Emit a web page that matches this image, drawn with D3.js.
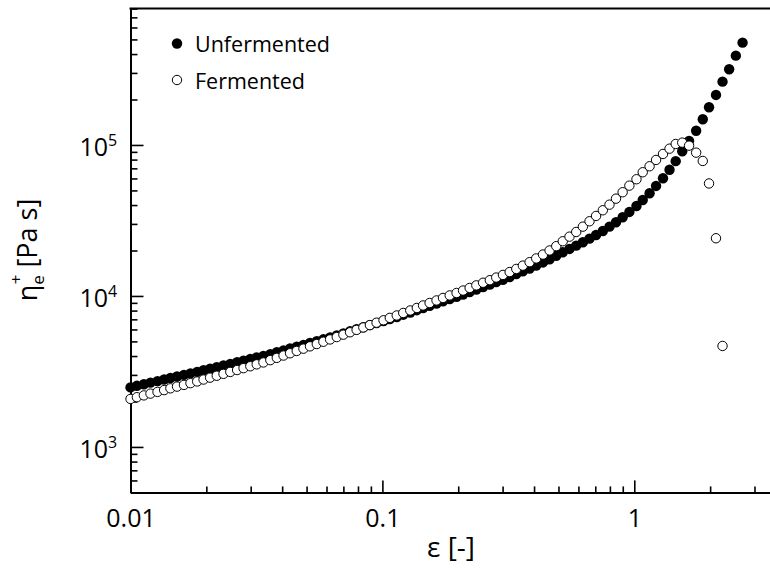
<!DOCTYPE html>
<html><head><meta charset="utf-8">
<script src="https://cdn.jsdelivr.net/npm/d3@7"></script>
<style>body{margin:0;background:#fff}svg{display:block}text{font-family:"Open Sans",sans-serif;fill:#000}</style>
</head><body>
<svg id="c" width="770" height="570"></svg>
<script>
const strain = [0.0100,0.0106,0.0113,0.0120,0.0128,0.0136,0.0144,0.0153,0.0163,0.0173,
0.0184,0.0195,0.0207,0.0220,0.0234,0.0249,0.0265,0.0281,0.0299,0.0317,
0.0337,0.0359,0.0381,0.0405,0.0430,0.0457,0.0486,0.0516,0.0549,0.0583,
0.0620,0.0659,0.0700,0.0744,0.0790,0.0840,0.0892,0.0948,0.101,0.107,
0.114,0.121,0.129,0.137,0.145,0.154,0.164,0.174,0.185,0.197,
0.209,0.222,0.236,0.251,0.267,0.283,0.301,0.320,0.340,0.361,
0.384,0.408,0.434,0.461,0.490,0.520,0.553,0.588,0.625,0.664,
0.705,0.750,0.797,0.846,0.899,0.956,1.02,1.08,1.15,1.22,
1.30,1.38,1.46,1.55,1.65,1.76,1.87,1.98,2.11,2.24,
2.38,2.53,2.69];
const unfermented = [2480,2540,2600,2665,2730,2795,2860,2930,3000,3070,
3140,3220,3300,3380,3465,3550,3640,3730,3821,3912,
4006,4120,4240,4361,4486,4612,4745,4880,5020,5163,
5311,5479,5653,5833,6018,6209,6407,6611,6822,7038,
7260,7514,7775,8048,8327,8619,8919,9231,9552,9886,
10230,10620,11030,11445,11880,12340,12810,13360,13950,14550,
15190,15900,16670,17500,18460,19470,20480,21530,22680,23970,
25350,26940,28770,30770,33210,36010,39450,43230,47880,53530,
60190,68500,78120,90850,106300,124200,148000,177700,214400,262600,
317200,390300,476000];
const fermented = [2080,2135,2195,2255,2315,2380,2445,2510,2575,2645,
2715,2795,2877,2962,3049,3139,3231,3326,3423,3524,
3627,3757,3891,4030,4173,4323,4477,4638,4803,4975,
5152,5343,5542,5748,5962,6185,6414,6653,6900,7161,
7428,7715,8015,8327,8652,8987,9338,9700,10080,10470,
10860,11300,11750,12230,12720,13240,13780,14400,15100,15880,
16740,17720,18800,20010,21370,23030,24700,26530,28770,31240,
33870,36940,40230,44100,48630,53780,59280,65960,72270,79560,
87180,94510,101500,103600,98950,88920,78340,55590,24110,4666];

const seriesNames = ["Unfermented","Fermented"];
const xMajor = [0.01,0.1,1];
const xMajorLabels = ["0.01","0.1","1"];
const xMinor = [0.02,0.03,0.04,0.05,0.06,0.07,0.08,0.09,0.2,0.3,0.4,0.5,0.6,0.7,0.8,0.9,2,3];
const yMajor = [1e3,1e4,1e5];
const yMajorExp = ["3","4","5"];
const yMinor = [500,600,700,800,900,2000,3000,4000,5000,6000,7000,8000,9000,
20000,30000,40000,50000,60000,70000,80000,90000,200000,300000,400000,500000,600000,700000,800000];

const svg = d3.select("#c");
const L = 130.5, T = 8.6, B = 492.4, dec = 251.9;
const x = d3.scaleLog().domain([0.01, 3.5]).range([L, L + dec*Math.log10(350)]);
const y = d3.scaleLog().domain([500, 800000]).range([B, T]);

// x axis
const gx = svg.append("g").attr("transform",`translate(0,${B})`);
gx.call(d3.axisBottom(x).tickValues(xMinor).tickSizeInner(-6).tickSizeOuter(0).tickFormat(""));
const gx2 = svg.append("g").attr("transform",`translate(0,${B})`);
gx2.call(d3.axisBottom(x).tickValues(xMajor).tickSizeInner(-12).tickSizeOuter(0).tickPadding(16.5)
  .tickFormat((d,i)=>xMajorLabels[i]));
gx2.selectAll("text").style("font-size","25px").attr("font-family",null);
// y axis
const gy = svg.append("g").attr("transform",`translate(${L},0)`);
gy.call(d3.axisLeft(y).tickValues(yMinor).tickSizeInner(-7).tickSizeOuter(0).tickFormat(""));
const gy2 = svg.append("g").attr("transform",`translate(${L},0)`);
gy2.call(d3.axisLeft(y).tickValues(yMajor).tickSizeInner(-13).tickSizeOuter(0).tickFormat(""));
svg.selectAll(".domain").attr("stroke","#000").attr("stroke-width",2);
svg.selectAll(".tick line").attr("stroke","#000").attr("stroke-width",1.6);
svg.selectAll(".tick text").attr("fill","#000");

// y labels with superscripts
yMajor.forEach((v,i)=>{
  svg.append("text").attr("x",108).attr("y",y(v)+11).attr("text-anchor","end").style("font-size","25px").text("10");
  svg.append("text").attr("x",108).attr("y",y(v)+1).style("font-size","16px").text(yMajorExp[i]);
});

// top border
svg.append("line").attr("x1",L-1).attr("x2",770).attr("y1",T).attr("y2",T).attr("stroke","#000").attr("stroke-width",2);

// data
const r = 5.2;
svg.append("g").selectAll("circle").data(unfermented).join("circle")
  .attr("cx",(d,i)=>x(strain[i])).attr("cy",d=>y(d)).attr("r",r).attr("fill","#000");
svg.append("g").selectAll("circle").data(fermented).join("circle")
  .attr("cx",(d,i)=>x(strain[i])).attr("cy",d=>y(d)).attr("r",r-0.5).attr("fill","#fff").attr("stroke","#000").attr("stroke-width",1);

// legend
svg.append("circle").attr("cx",177).attr("cy",43.5).attr("r",r).attr("fill","#000");
svg.append("circle").attr("cx",177).attr("cy",80).attr("r",r-0.5).attr("fill","#fff").attr("stroke","#000");
svg.append("text").attr("x",195).attr("y",52).style("font-size","21.5px").text(seriesNames[0]);
svg.append("text").attr("x",195).attr("y",88.5).style("font-size","21.5px").text(seriesNames[1]);

// axis titles
svg.append("text").attr("x",451).attr("y",557).attr("text-anchor","middle").style("font-size","28px").text("ε [-]");
const yt = svg.append("text").attr("transform","translate(37,250) rotate(-90)").attr("text-anchor","middle").style("font-size","27px");
yt.append("tspan").text("η");
yt.append("tspan").attr("dy",7).style("font-size","17px").text("e");
yt.append("tspan").attr("dx",-9).attr("dy",-22).style("font-size","17px").text("+");
yt.append("tspan").attr("dy",15).text(" [Pa s]");
</script>
</body></html>
